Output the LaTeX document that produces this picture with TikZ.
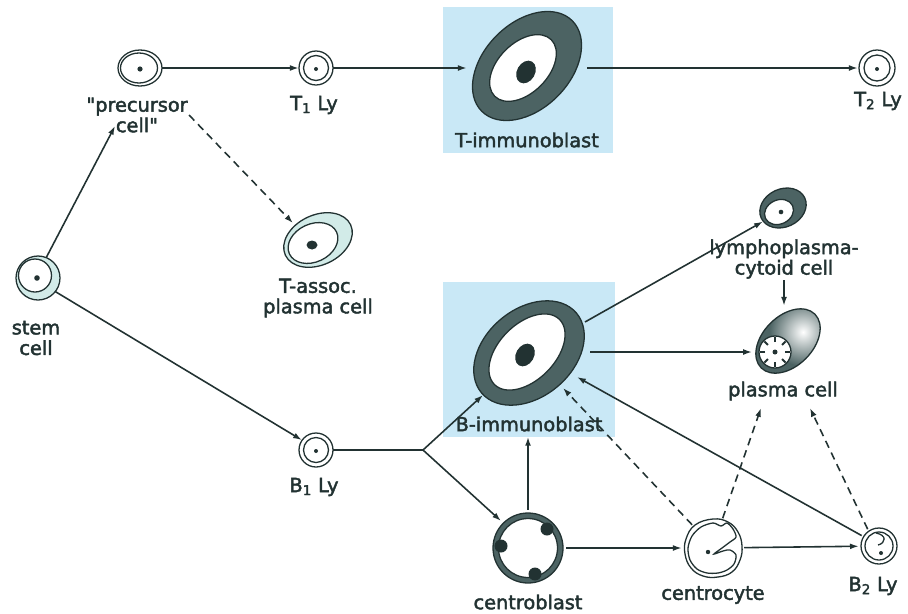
\documentclass[tikz,border=0pt]{standalone}
\usepackage{fontspec}
\setmainfont{DejaVu Sans}[FakeBold=2.2]
\usetikzlibrary{arrows.meta,calc}
\definecolor{ink}{HTML}{223232}
\definecolor{ring}{HTML}{4C6363}
\definecolor{pale}{HTML}{D2EBE8}
\definecolor{boxblue}{HTML}{C9E8F6}
\begin{document}
\begin{tikzpicture}[x=0.03cm,y=-0.03cm,
  lbl/.style={font=\fontsize{16.5}{17.5}\selectfont, text=ink, align=center, inner sep=1pt},
  cellnode/.style={circle, inner sep=0pt, minimum size=#1*0.03cm},
  memb/.style={draw=ink, line width=1.1pt},
  wire/.style={draw=ink, line width=1.35pt},
  arr/.style={wire, -{Latex[length=7.5pt,width=5pt]}},
  dasharr/.style={arr, dash pattern=on 6.5pt off 4.5pt},
  dot/.style={fill=ink}
]
\useasboundingbox (0,0) rectangle (908,613);

% shaded backgrounds of the two immunoblast stages
\fill[boxblue] (443,7) rectangle (613,153);
\fill[boxblue] (443,282) rectangle (615,437);

% ---------- cells ----------
% stem cell
\filldraw[fill=pale, memb] (38,278) circle (22);
\filldraw[fill=white, memb] (35,275.5) circle (16.5);
\fill[dot] (37,278) circle (2.8);

% precursor cell
\filldraw[fill=white, memb] (140,68) ellipse [x radius=22, y radius=18];
\draw[memb] (139,68) ellipse [x radius=18.5, y radius=15];
\fill[dot] (140,69) circle (2.6);

% T1 lymphocyte
\filldraw[fill=white, memb] (316,68) circle (17);
\draw[memb] (316,68) circle (12.5);
\fill[dot] (316,69) circle (2);

% T-immunoblast
\filldraw[fill=ring, memb, rotate around={45:(527,66)}] (527,66) ellipse [x radius=64, y radius=43];
\filldraw[fill=white, memb, rotate around={45:(523,68)}] (523,68) ellipse [x radius=40, y radius=25];
\fill[dot, rotate around={60:(526,72)}] (526,72) ellipse [x radius=12, y radius=9];

% T2 lymphocyte
\filldraw[fill=white, memb] (877,68) circle (18);
\draw[memb] (877,68) circle (13);
\fill[dot] (877,69) circle (2);

% T-associated plasma cell
\filldraw[fill=pale, memb, rotate around={25:(318,240)}] (318,240) ellipse [x radius=36, y radius=25];
\filldraw[fill=white, memb, rotate around={25:(313,243)}] (313,243) ellipse [x radius=26, y radius=19];
\fill[dot] (312,245) ellipse [x radius=5.5, y radius=4.5];

% B1 lymphocyte
\filldraw[fill=white, memb] (316,450) circle (17);
\draw[memb] (316,450) circle (12.5);
\fill[dot] (316,451) circle (2);

% B-immunoblast
\filldraw[fill=ring, memb, rotate around={40:(529,353)}] (529,353) ellipse [x radius=62, y radius=44];
\filldraw[fill=white, memb, rotate around={45:(527,352)}] (527,352) ellipse [x radius=46, y radius=28];
\fill[dot, rotate around={60:(525,355)}] (525,355) ellipse [x radius=12, y radius=9];

% lymphoplasmacytoid cell
\filldraw[fill=ring, memb, rotate around={25:(783,208)}] (783,208) ellipse [x radius=24, y radius=19];
\filldraw[fill=white, memb, rotate around={25:(779,212)}] (779,212) ellipse [x radius=15, y radius=12];
\fill[dot] (781,212) circle (2.3);

% plasma cell with cartwheel nucleus
\begin{scope}
  \clip[rotate around={45:(788,341)}] (788,341) ellipse [x radius=38, y radius=25];
  \fill[ring] (740,290) rectangle (840,390);
  \shade[inner color=white, outer color=ring] (803,332) circle (34);
\end{scope}
\draw[memb, rotate around={45:(788,341)}] (788,341) ellipse [x radius=38, y radius=25];
\filldraw[fill=white, memb] (775,352) circle (16);
\foreach \a in {0,45,...,315}
  \draw[ink, line width=1.7pt] ($(775,352)+(\a:0.3cm)$) -- ($(775,352)+(\a:0.45cm)$);
\fill[dot] (775,352) circle (2.5);

% centroblast
\filldraw[fill=ring, memb] (528,548) circle (35);
\filldraw[fill=white, memb] (528,548) circle (29.5);
\begin{scope}
  \clip (528,548) circle (35);
  \fill[dot] (547,529) circle (6.5);
  \fill[dot] (501,546) circle (6.5);
  \fill[dot] (535,574) circle (6.5);
\end{scope}

% centrocyte with cleaved nucleus
\begin{scope}[shift={(713,548)}]
  \draw[memb, fill=white] plot[smooth cycle, tension=0.7] coordinates {
    (0,-29) (15,-26) (25,-16) (29,-2) (27,12) (19,24) (5,29)
    (-10,28) (-22,20) (-28,6) (-27,-9) (-18,-23)};
  \draw[memb] plot[smooth cycle, tension=0.5] coordinates {
    (0,-25) (8,-22) (14,-25) (20,-19) (23,-11) (17,-6) (9,0) (1,6)
    (10,3) (17,2) (23,7) (21,16) (14,22) (5,25) (-6,25) (-16,21)
    (-23,12) (-25,0) (-21,-12) (-12,-21)};
  \fill[dot] (-5,4) circle (2.2);
\end{scope}

% B2 lymphocyte with notched nucleus
\filldraw[fill=white, memb] (879,546) circle (18);
\draw[memb] (879,546) circle (14);
\draw[memb] (876,533) .. controls (887,535) and (886,543) .. (878,545);
\fill[dot] (881,553) circle (2);

% ---------- labels ----------
\node[lbl] (steml) at (36,338) {stem\\cell};
\node[lbl] (precl) at (137,115) {\textquotedbl precursor\\cell\textquotedbl};
\node[lbl] (T1l) at (314,105) {T\textsubscript{1} Ly};
\node[lbl] (Timml) at (527,140) {T-immunoblast};
\node[lbl] (T2l) at (878,101) {T\textsubscript{2} Ly};
\node[lbl] (Tasl) at (318,298) {T-assoc.\\plasma cell};
\node[lbl] (lyml) at (784,259) {lymphoplasma-\\cytoid cell};
\node[lbl] (plal) at (783,391) {plasma cell};
\node[lbl] (Bimml) at (529,424) {B-immunoblast};
\node[lbl] (B1l) at (314,487) {B\textsubscript{1} Ly};
\node[lbl] (CBl) at (528,602) {centroblast};
\node[lbl] (CCl) at (713,595) {centrocyte};
\node[lbl] (B2l) at (873,586) {B\textsubscript{2} Ly};

% ---------- anchors of the cells ----------
\node[cellnode=44] (stem) at (38,278) {};
\node[cellnode=44] (prec) at (140,68) {};
\node[cellnode=34] (T1) at (316,68) {};
\node[cellnode=120] (Timm) at (527,68) {};
\node[cellnode=38] (T2) at (877,68) {};
\node[cellnode=60] (Tas) at (318,240) {};
\node[cellnode=34] (B1) at (316,450) {};
\node[cellnode=120] (Bimm) at (529,353) {};
\node[cellnode=48] (lym) at (783,208) {};
\node[cellnode=70] (pla) at (788,341) {};
\node[cellnode=76] (CB) at (528,548) {};
\node[cellnode=62] (CC) at (713,548) {};
\node[cellnode=40] (B2) at (879,546) {};
\coordinate (precin) at (115,126);
\coordinate (J) at (423,450);

% ---------- connectors ----------
\draw[arr] (stem.68) -- (precin);
\draw[arr] (stem.-38) -- (B1.145);
\draw[arr] (prec) -- (T1);
\draw[arr] (T1) -- (Timm);
\draw[arr] (Timm) -- (T2);
\draw[dasharr] (precl.east) -- (Tas.146);
\draw[wire] (B1) -- (J);
\draw[arr] (J) -- ($(Bimm)+(-46,42)$);
\draw[arr] (J) -- (CB.135);
\draw[arr] (CB.north) -- ($(CB.north |- Bimml.south)+(0,4)$);
\draw[arr] (CB) -- (CC);
\draw[arr] (CC) -- (B2);
\draw[dasharr] (CC.132) -- ($(Bimm)+(34,35)$);
\draw[dasharr] (CC.72) -- ($(pla)+(-27,67)$);
\draw[dasharr] (B2.124) -- ($(pla)+(22,67)$);
\draw[arr] (B2.149) -- ($(Bimm)+(48,24)$);
\draw[arr] ($(Bimm)+(56,-31)$) -- (lym.214);
\draw[arr] ($(Bimm)+(61,-1)$) -- ($(pla)+(-36,11)$);
\draw[arr] (lyml.south) -- (lyml.south |- pla.north);
\end{tikzpicture}
\end{document}
